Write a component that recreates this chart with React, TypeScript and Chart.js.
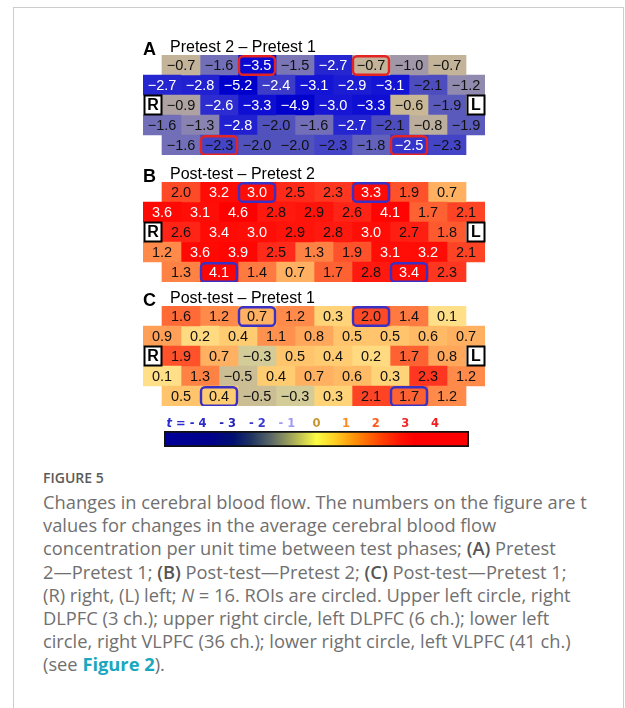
import React, { useEffect, useRef } from 'react';
import { Chart, registerables } from 'chart.js';

Chart.register(...registerables);

// ---------- data ----------
const rowLabels = ['row 1', 'row 2', 'row 3', 'row 4', 'row 5'];

// (A) Pretest 2 – Pretest 1
const tPre2MinusPre1 = [
  [-0.7, -1.6, -3.5, -1.5, -2.7, -0.7, -1.0, -0.7],
  [-2.7, -2.8, -5.2, -2.4, -3.1, -2.9, -3.1, -2.1, -1.2],
  [-0.9, -2.6, -3.3, -4.9, -3.0, -3.3, -0.6, -1.9],
  [-1.6, -1.3, -2.8, -2.0, -1.6, -2.7, -2.1, -0.8, -1.9],
  [-1.6, -2.3, -2.0, -2.0, -2.3, -1.8, -2.5, -2.3],
];

// (B) Post-test – Pretest 2
const tPostMinusPre2 = [
  [2.0, 3.2, 3.0, 2.5, 2.3, 3.3, 1.9, 0.7],
  [3.6, 3.1, 4.6, 2.8, 2.9, 2.6, 4.1, 1.7, 2.1],
  [2.6, 3.4, 3.0, 2.9, 2.8, 3.0, 2.7, 1.8],
  [1.2, 3.6, 3.9, 2.5, 1.3, 1.9, 3.1, 3.2, 2.1],
  [1.3, 4.1, 1.4, 0.7, 1.7, 2.8, 3.4, 2.3],
];

// (C) Post-test – Pretest 1
const tPostMinusPre1 = [
  [1.6, 1.2, 0.7, 1.2, 0.3, 2.0, 1.4, 0.1],
  [0.9, 0.2, 0.4, 1.1, 0.8, 0.5, 0.5, 0.6, 0.7],
  [1.9, 0.7, -0.3, 0.5, 0.4, 0.2, 1.7, 0.8],
  [0.1, 1.3, -0.5, 0.4, 0.7, 0.6, 0.3, 2.3, 1.2],
  [0.5, 0.4, -0.5, -0.3, 0.3, 2.1, 1.7, 1.2],
];

const panelLetters = ['A', 'B', 'C'];
const panelTitles = ['Pretest 2 \u2013 Pretest 1', 'Post-test \u2013 Pretest 2', 'Post-test \u2013 Pretest 1'];
// ROI cells: [row index, position within row]
const roiCells = [
  [0, 2],
  [0, 5],
  [4, 1],
  [4, 6],
];
const sideLabels = ['R', 'L'];

const colorbarTicks = [-4, -3, -2, -1, 0, 1, 2, 3, 4];
const colorbarTickLabels = ['- 4', '- 3', '- 2', '- 1', '0', '1', '2', '3', '4'];
const colorbarRange = [-5.15, 5.15];

// ---------- styling ----------
const MAX_COLS = 9;
const CELL_FONT = '14.5px "Liberation Sans", Arial, sans-serif';
const roiColorsByPanel = ['#e42424', '#3a30c4', '#3a30c4'];
const panelGridTops = [55, 182, 306];

const cellStops: [number, string][] = [
  [-5.2, '#0000cc'],
  [-3.5, '#0a0ad4'],
  [-3.0, '#1616d4'],
  [-2.6, '#2c2cd0'],
  [-2.3, '#4444c6'],
  [-2.0, '#5252bc'],
  [-1.8, '#6262bc'],
  [-1.5, '#7a76b6'],
  [-1.2, '#908aae'],
  [-1.0, '#a098a8'],
  [-0.8, '#bcae9c'],
  [-0.6, '#c8b896'],
  [-0.4, '#cec494'],
  [-0.2, '#d8d29c'],
  [0.0, '#f4e28c'],
  [0.1, '#ffe088'],
  [0.3, '#ffd478'],
  [0.5, '#ffc46c'],
  [0.7, '#ffb060'],
  [0.9, '#ffa058'],
  [1.2, '#ff8a4a'],
  [1.4, '#ff7a40'],
  [1.7, '#ff6232'],
  [2.0, '#ff4a28'],
  [2.3, '#ff3620'],
  [2.6, '#ff2416'],
  [3.0, '#ff0e08'],
  [4.6, '#ff0000'],
];

const barStops: [number, string][] = [
  [-5.15, '#00009a'],
  [-3.6, '#00008a'],
  [-2.8, '#001070'],
  [-2.2, '#203462'],
  [-1.5, '#5e6a66'],
  [-0.8, '#a8aa58'],
  [0.0, '#fcfc44'],
  [0.6, '#ffd024'],
  [1.3, '#ff9008'],
  [2.1, '#ff4800'],
  [2.8, '#ff1600'],
  [3.3, '#ff0000'],
  [5.15, '#ff0000'],
];

const tickColors = ['#2a2ad0', '#2424b8', '#3a3ad0', '#9c9cf4', '#c8962e', '#ff8a1e', '#ff5a1a', '#f42828', '#f01e1e'];

function hexToRgb(h: string) {
  const n = parseInt(h.slice(1), 16);
  return [(n >> 16) & 255, (n >> 8) & 255, n & 255];
}

function interpColor(stops: [number, string][], v: number) {
  if (v <= stops[0][0]) return stops[0][1];
  if (v >= stops[stops.length - 1][0]) return stops[stops.length - 1][1];
  for (let i = 0; i < stops.length - 1; i++) {
    const [a, ca] = stops[i];
    const [b, cb] = stops[i + 1];
    if (v >= a && v <= b) {
      const t = (v - a) / (b - a);
      const A = hexToRgb(ca);
      const B = hexToRgb(cb);
      const c = A.map((x, j) => Math.round(x + (B[j] - x) * t));
      return `rgb(${c[0]},${c[1]},${c[2]})`;
    }
  }
  return stops[0][1];
}

const textColor = (v: number) => (v >= 3.0 || v <= -2.4 ? '#ffffff' : '#111111');
const fmt = (v: number) => (v < 0 ? '\u2212' : '') + Math.abs(v).toFixed(1);
const rowOffset = (row: number[]) => (row.length === MAX_COLS ? 0 : 0.5);

// ---------- heat-map panel ----------
function HeatPanel({ values, index }: { values: number[][]; index: number }) {
  const ref = useRef<HTMLCanvasElement>(null);
  const gridTop = panelGridTops[index];

  useEffect(() => {
    const canvas = ref.current!;
    const datasets: any[] = [];
    for (let k = 0; k < MAX_COLS; k++) {
      datasets.push({
        data: values.map((row) => {
          if (k >= row.length) return null;
          const o = rowOffset(row);
          return [k + o, k + o + 1];
        }),
        backgroundColor: values.map((row) => (k < row.length ? interpColor(cellStops, row[k]) : 'rgba(0,0,0,0)')),
        borderWidth: 0,
        grouped: false,
        categoryPercentage: 1,
        barPercentage: 1,
      });
    }

    const overlay = {
      id: 'overlay',
      afterDatasetsDraw(chart: any) {
        const { ctx } = chart;
        const x = chart.scales.x;
        const y = chart.scales.y;
        const rowH = Math.abs(y.getPixelForValue(1) - y.getPixelForValue(0));
        ctx.save();
        // numbers
        ctx.textAlign = 'center';
        ctx.textBaseline = 'middle';
        ctx.font = CELL_FONT;
        values.forEach((row, r) => {
          const o = rowOffset(row);
          const yc = y.getPixelForValue(r);
          row.forEach((v, k) => {
            ctx.fillStyle = textColor(v);
            ctx.fillText(fmt(v), x.getPixelForValue(k + o + 0.5), yc + 1);
          });
        });
        // R / L boxes on the middle row
        const mid = 2;
        const ym = y.getPixelForValue(mid);
        const boxes = [
          [x.getPixelForValue(0.5) - 17.5, x.getPixelForValue(0.5) - 0.5],
          [x.getPixelForValue(MAX_COLS - 0.5) + 1.5, x.getPixelForValue(MAX_COLS - 0.5) + 18.5],
        ];
        boxes.forEach(([x0, x1], i) => {
          ctx.fillStyle = '#ffffff';
          ctx.fillRect(x0, ym - 9.5, x1 - x0, 19);
          ctx.strokeStyle = '#000000';
          ctx.lineWidth = 2;
          ctx.strokeRect(x0, ym - 9.5, x1 - x0, 19);
          ctx.fillStyle = '#000000';
          ctx.font = 'bold 16px "Liberation Sans", Arial, sans-serif';
          ctx.textAlign = 'center';
          ctx.fillText(sideLabels[i], (x0 + x1) / 2, ym + 1);
        });
        // ROIs
        ctx.strokeStyle = roiColorsByPanel[index];
        ctx.lineWidth = 2.4;
        roiCells.forEach(([r, k]) => {
          const o = rowOffset(values[r]);
          const x0 = x.getPixelForValue(k + o);
          const x1 = x.getPixelForValue(k + o + 1);
          const yc = y.getPixelForValue(r);
          ctx.beginPath();
          (ctx as any).roundRect(x0 + 1, yc - rowH / 2 + 1.2, x1 - x0 - 2, rowH - 1.4, 4);
          ctx.stroke();
        });
        // title
        const top = chart.chartArea.top;
        ctx.textAlign = 'left';
        ctx.textBaseline = 'alphabetic';
        ctx.fillStyle = '#000000';
        ctx.font = 'bold 18px "Liberation Sans", Arial, sans-serif';
        ctx.fillText(panelLetters[index], 13, top);
        ctx.font = '16px "Liberation Sans", Arial, sans-serif';
        ctx.fillText(panelTitles[index], 40, top - 3.5);
        ctx.restore();
      },
    };

    const chart = new Chart(canvas, {
      type: 'bar',
      data: { labels: rowLabels, datasets },
      options: {
        indexAxis: 'y',
        animation: false,
        responsive: false,
        maintainAspectRatio: false,
        events: [],
        layout: { padding: { left: 13, right: 15, top: 26, bottom: 0 } },
        plugins: { legend: { display: false }, tooltip: { enabled: false } },
        scales: {
          x: { type: 'linear', min: 0, max: MAX_COLS, display: false },
          y: { type: 'category', display: false },
        },
      } as any,
      plugins: [overlay],
    });
    return () => chart.destroy();
  }, []);

  return (
    <canvas
      ref={ref}
      width={370}
      height={126}
      style={{ position: 'absolute', left: 130, top: gridTop - 26, width: 370, height: 126 }}
    />
  );
}

// ---------- colour bar ----------
function ColorBar() {
  const ref = useRef<HTMLCanvasElement>(null);
  useEffect(() => {
    const canvas = ref.current!;
    const labelsPlugin = {
      id: 'cbLabels',
      afterDatasetsDraw(chart: any) {
        const { ctx } = chart;
        const x = chart.scales.x;
        ctx.save();
        ctx.textBaseline = 'alphabetic';
        ctx.font = 'bold 11.5px "DejaVu Sans", Verdana, sans-serif';
        const baseY = 15;
        colorbarTicks.forEach((v, i) => {
          ctx.fillStyle = tickColors[i];
          ctx.textAlign = 'center';
          ctx.fillText(colorbarTickLabels[i], x.getPixelForValue(v), baseY);
        });
        const firstW = ctx.measureText(colorbarTickLabels[0]).width;
        const startX = x.getPixelForValue(colorbarTicks[0]) - firstW / 2 - 4;
        ctx.textAlign = 'right';
        ctx.fillStyle = tickColors[0];
        ctx.fillText('=', startX, baseY);
        const eqW = ctx.measureText('=').width;
        ctx.font = 'italic bold 11.5px "DejaVu Sans", Verdana, sans-serif';
        ctx.fillText('t', startX - eqW - 4, baseY);
        ctx.restore();
      },
    };
    const chart = new Chart(canvas, {
      type: 'bar',
      data: {
        labels: [''],
        datasets: [
          {
            data: [colorbarRange],
            backgroundColor: (c: any) => {
              const ch = c.chart;
              const area = ch.chartArea;
              if (!area) return '#888';
              const xs = ch.scales.x;
              const g = ch.ctx.createLinearGradient(area.left, 0, area.right, 0);
              const w = area.right - area.left;
              barStops.forEach(([v, col]) => {
                const f = Math.min(1, Math.max(0, (xs.getPixelForValue(v) - area.left) / w));
                g.addColorStop(f, col);
              });
              return g;
            },
            borderColor: '#111111',
            borderWidth: 2,
            borderSkipped: false,
            categoryPercentage: 1,
            barPercentage: 1,
          },
        ],
      },
      options: {
        indexAxis: 'y',
        animation: false,
        responsive: false,
        maintainAspectRatio: false,
        events: [],
        layout: { padding: { left: 14, right: 11, top: 19, bottom: 5 } },
        plugins: { legend: { display: false }, tooltip: { enabled: false } },
        scales: {
          x: { type: 'linear', min: colorbarRange[0], max: colorbarRange[1], display: false },
          y: { type: 'category', display: false },
        },
      } as any,
      plugins: [labelsPlugin],
    });
    return () => chart.destroy();
  }, []);
  return (
    <canvas
      ref={ref}
      width={330}
      height={40}
      style={{ position: 'absolute', left: 150, top: 412, width: 330, height: 40 }}
    />
  );
}

const captionFont = '"Open Sans", "Noto Sans", sans-serif';

export default function App() {
  const panels = [tPre2MinusPre1, tPostMinusPre2, tPostMinusPre1];
  return (
    <div style={{ position: 'absolute', left: 0, top: 0, width: 625, height: 708, background: '#fff', overflow: 'hidden' }}>
      <div
        style={{
          position: 'absolute',
          left: 13,
          top: 7,
          width: 609,
          height: 720,
          border: '1px solid #cdcdcd',
          borderBottom: 'none',
        }}
      />
      {panels.map((vals, i) => (
        <HeatPanel key={i} values={vals} index={i} />
      ))}
      <ColorBar />
      <div
        style={{
          position: 'absolute',
          left: 43,
          top: 468,
          font: `600 14px ${captionFont}`,
          lineHeight: '20px',
          color: '#5a5a5a',
          whiteSpace: 'nowrap',
        }}
      >
        FIGURE 5
      </div>
      <div
        style={{
          position: 'absolute',
          left: 43,
          top: 490,
          font: `18.3px ${captionFont}`,
          lineHeight: '23.2px',
          color: '#707070',
          whiteSpace: 'nowrap',
        }}
      >
        Changes in cerebral blood flow. The numbers on the figure are t<br />
        values for changes in the average cerebral blood flow<br />
        concentration per unit time between test phases; <b style={{ fontWeight: 600, color: '#555' }}>(A)</b> Pretest<br />
        2{'\u2014'}Pretest 1; <b style={{ fontWeight: 600, color: '#555' }}>(B)</b> Post-test{'\u2014'}Pretest 2;{' '}
        <b style={{ fontWeight: 600, color: '#555' }}>(C)</b> Post-test{'\u2014'}Pretest 1;<br />
        (R) right, (L) left; <i>N</i> = 16. ROIs are circled. Upper left circle, right<br />
        DLPFC (3 ch.); upper right circle, left DLPFC (6 ch.); lower left<br />
        circle, right VLPFC (36 ch.); lower right circle, left VLPFC (41 ch.)<br />
        (see <b style={{ fontWeight: 700, color: '#1aa7c0' }}>Figure 2</b>).
      </div>
    </div>
  );
}
